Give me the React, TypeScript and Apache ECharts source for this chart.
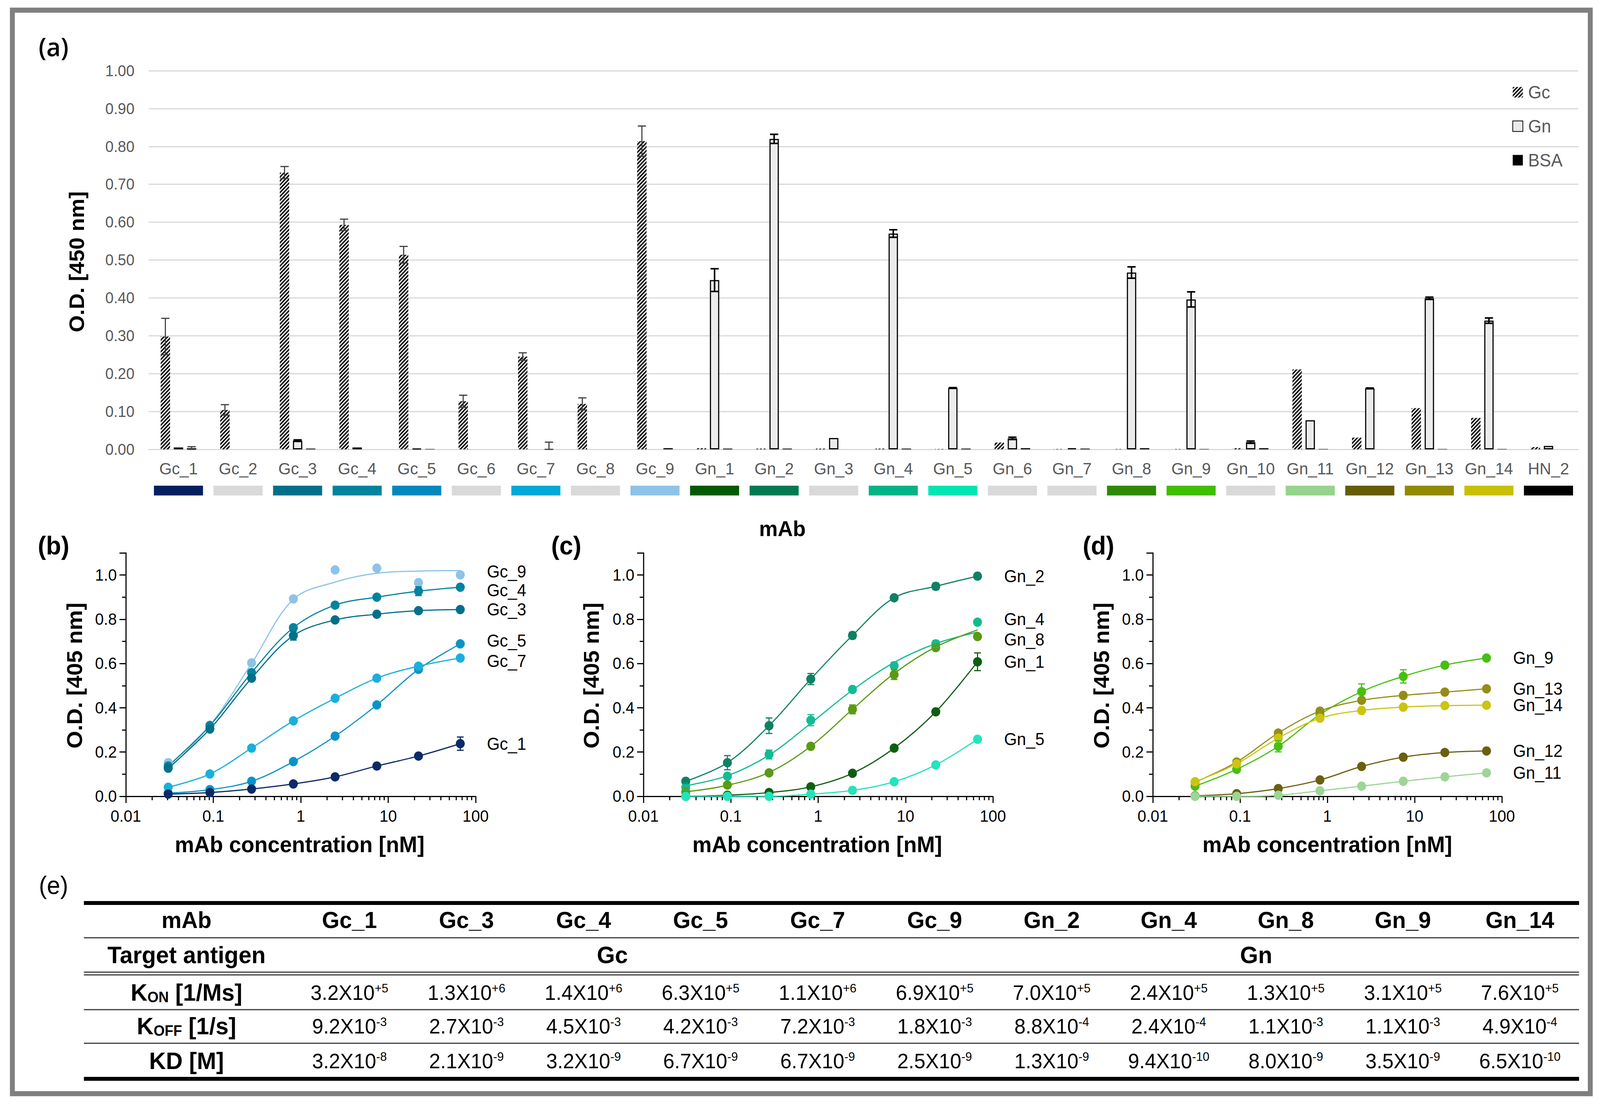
import React, { useEffect, useRef } from 'react';
import * as echarts from 'echarts';

const FONT = '"Liberation Sans", Arial, Helvetica, sans-serif';
const PAGE_W = 4272;
const PAGE_H = 2828;

// ---------- Panel (a) data ----------
const categories = ['Gc_1', 'Gc_2', 'Gc_3', 'Gc_4', 'Gc_5', 'Gc_6', 'Gc_7', 'Gc_8', 'Gc_9', 'Gn_1', 'Gn_2', 'Gn_3', 'Gn_4', 'Gn_5', 'Gn_6', 'Gn_7', 'Gn_8', 'Gn_9', 'Gn_10', 'Gn_11', 'Gn_12', 'Gn_13', 'Gn_14', 'HN_2'];
const gcValues = [0.298, 0.104, 0.731, 0.593, 0.514, 0.127, 0.245, 0.120, 0.814, 0.003, 0.002, 0.002, 0.002, 0.001, 0.018, 0.001, 0.001, 0.001, 0.003, 0.211, 0.031, 0.109, 0.083, 0.006];
const gcErrors = [0.048, 0.014, 0.016, 0.015, 0.022, 0.016, 0.010, 0.016, 0.040, 0, 0, 0, 0, 0, 0, 0, 0, 0, 0, 0, 0, 0, 0, 0];
const gnValues = [0.005, null, 0.023, 0.005, 0.002, null, null, null, null, 0.447, 0.820, 0.030, 0.570, 0.162, 0.029, 0.003, 0.467, 0.396, 0.019, 0.077, 0.161, 0.399, 0.340, 0.009];
const gnErrors = [0, 0, 0.002, 0, 0, 0, 0, 0, 0, 0.030, 0.012, 0, 0.010, 0.001, 0.003, 0, 0.015, 0.020, 0.003, 0, 0.001, 0.003, 0.007, 0];
const bsaValues = [0.003, null, 0.002, null, 0.001, null, 0.001, null, 0.003, 0.002, 0.002, null, 0.002, 0.002, 0.003, 0.002, 0.003, 0.001, 0.003, 0.001, null, 0.001, 0.001, null];
const bsaErrors = [0.004, 0, 0, 0, 0, 0, 0.018, 0, 0, 0, 0, 0, 0, 0, 0, 0, 0, 0, 0, 0, 0, 0, 0, 0];
const stripColors = ['#002060', '#d9d9d9', '#00708a', '#00839e', '#0088bf', '#d9d9d9', '#00a9d8', '#d9d9d9', '#8dc3e8', '#005a00', '#007a54', '#d9d9d9', '#00b386', '#00e5b4', '#d9d9d9', '#d9d9d9', '#2e8a00', '#40be00', '#d9d9d9', '#96d38c', '#665c00', '#938a00', '#c8c000', '#000000'];
const barTicks = [0, 0.1, 0.2, 0.3, 0.4, 0.5, 0.6, 0.7, 0.8, 0.9, 1.0];

// ---------- Panels (b)-(d) data ----------
const concentrations = [0.0305, 0.0914, 0.274, 0.823, 2.47, 7.41, 22.2, 66.7];
const logMinorTicks = [0.02, 0.03, 0.04, 0.05, 0.06, 0.07, 0.08, 0.09, 0.2, 0.3, 0.4, 0.5, 0.6, 0.7, 0.8, 0.9, 2, 3, 4, 5, 6, 7, 8, 9, 20, 30, 40, 50, 60, 70, 80, 90];

const gc9Points = [0.152, 0.322, 0.603, 0.892, 1.023, 1.031, 0.966, 1.001];
const gc9Fit = [0.122, 0.320, 0.600, 0.890, 0.968, 1.008, 1.018, 1.020];
const gc4Points = [0.137, 0.319, 0.559, 0.762, 0.864, 0.900, 0.927, 0.945];
const gc3Points = [0.127, 0.304, 0.534, 0.726, 0.797, 0.823, 0.839, 0.844];
const gc5Points = [0.015, 0.030, 0.068, 0.157, 0.272, 0.413, 0.574, 0.689];
const gc7Points = [0.041, 0.101, 0.218, 0.341, 0.443, 0.534, 0.588, 0.625];
const gc1Points = [0.010, 0.017, 0.033, 0.056, 0.088, 0.137, 0.182, 0.238];
const gc1Errors = [0, 0, 0, 0, 0, 0, 0, 0.030];
const gc3Errors = [0, 0, 0, 0.020, 0, 0, 0, 0];
const gc4Errors = [0, 0, 0, 0, 0, 0, 0.020, 0];

const gn2Points = [0.068, 0.152, 0.319, 0.530, 0.727, 0.897, 0.949, 0.995];
const gn2Errors = [0.012, 0.032, 0.035, 0.025, 0.015, 0, 0.015, 0];
const gn4Points = [0.041, 0.091, 0.189, 0.344, 0.483, 0.590, 0.689, 0.787];
const gn4Fit = [0.048, 0.093, 0.186, 0.330, 0.480, 0.605, 0.690, 0.742];
const gn4Errors = [0.012, 0.005, 0.020, 0.025, 0.010, 0.015, 0.015, 0];
const gn8Points = [0.020, 0.051, 0.106, 0.226, 0.393, 0.550, 0.672, 0.722];
const gn8Fit = [0.020, 0.050, 0.108, 0.226, 0.393, 0.555, 0.675, 0.752];
const gn8Errors = [0, 0, 0, 0, 0.020, 0.022, 0.010, 0];
const gn1Points = [0.000, 0.005, 0.017, 0.043, 0.104, 0.218, 0.382, 0.608];
const gn1Errors = [0, 0, 0, 0, 0, 0, 0, 0.040];
const gn5Points = [0.000, 0.000, 0.000, 0.010, 0.027, 0.066, 0.142, 0.258];

const gn9Points = [0.046, 0.122, 0.226, 0.370, 0.473, 0.542, 0.593, 0.625];
const gn9Errors = [0, 0, 0.025, 0, 0.035, 0.030, 0, 0];
const gn13Points = [0.064, 0.155, 0.286, 0.385, 0.434, 0.456, 0.471, 0.486];
const gn14Points = [0.066, 0.147, 0.263, 0.353, 0.388, 0.403, 0.410, 0.412];
const gn12Points = [0.002, 0.012, 0.035, 0.074, 0.135, 0.177, 0.198, 0.205];
const gn11Points = [0.000, 0.000, 0.005, 0.025, 0.046, 0.068, 0.088, 0.106];

type Curve = { name: string; color: string; points: number[]; fit?: number[]; errors?: number[]; nudge?: number };

const panelB: Curve[] = [
  { name: 'Gc_9', color: '#8dc3e8', points: gc9Points, fit: gc9Fit, nudge: -8 },
  { name: 'Gc_4', color: '#00839e', points: gc4Points, errors: gc4Errors, nudge: 8 },
  { name: 'Gc_3', color: '#00708a', points: gc3Points, errors: gc3Errors },
  { name: 'Gc_5', color: '#0a93c6', points: gc5Points, nudge: -8 },
  { name: 'Gc_7', color: '#1aafdc', points: gc7Points, nudge: 8 },
  { name: 'Gc_1', color: '#0b2a66', points: gc1Points, errors: gc1Errors },
];
const panelC: Curve[] = [
  { name: 'Gn_2', color: '#108063', points: gn2Points, errors: gn2Errors },
  { name: 'Gn_4', color: '#14bb92', points: gn4Points, fit: gn4Fit, errors: gn4Errors, nudge: -8 },
  { name: 'Gn_8', color: '#5a9a14', points: gn8Points, fit: gn8Fit, errors: gn8Errors, nudge: 8 },
  { name: 'Gn_1', color: '#0d5e12', points: gn1Points, errors: gn1Errors },
  { name: 'Gn_5', color: '#25e3bb', points: gn5Points },
];
const panelD: Curve[] = [
  { name: 'Gn_9', color: '#46c010', points: gn9Points, errors: gn9Errors },
  { name: 'Gn_13', color: '#958d18', points: gn13Points },
  { name: 'Gn_14', color: '#cbc412', points: gn14Points },
  { name: 'Gn_12', color: '#6a6010', points: gn12Points },
  { name: 'Gn_11', color: '#9dd596', points: gn11Points },
];

// ---------- Panel (e) table data ----------
const tableMabs = ['Gc_1', 'Gc_3', 'Gc_4', 'Gc_5', 'Gc_7', 'Gc_9', 'Gn_2', 'Gn_4', 'Gn_8', 'Gn_9', 'Gn_14'];
const targetAntigens = ['Gc', 'Gn'];
const konMantissa = ['3.2', '1.3', '1.4', '6.3', '1.1', '6.9', '7.0', '2.4', '1.3', '3.1', '7.6'];
const konExponent = ['+5', '+6', '+6', '+5', '+6', '+5', '+5', '+5', '+5', '+5', '+5'];
const koffMantissa = ['9.2', '2.7', '4.5', '4.2', '7.2', '1.8', '8.8', '2.4', '1.1', '1.1', '4.9'];
const koffExponent = ['-3', '-3', '-3', '-3', '-3', '-3', '-4', '-4', '-3', '-3', '-4'];
const kdMantissa = ['3.2', '2.1', '3.2', '6.7', '6.7', '2.5', '1.3', '9.4', '8.0', '3.5', '6.5'];
const kdExponent = ['-8', '-9', '-9', '-9', '-9', '-9', '-9', '-10', '-9', '-9', '-10'];

function errorSeries(name: string, values: (number | null)[], errors: number[], offset: number, color: string, width: number, axis: number, cap: number) {
  const data: number[][] = [];
  values.forEach((v, i) => {
    if (v != null && errors[i] > 0) data.push([i, v, errors[i]]);
  });
  return {
    type: 'custom',
    name,
    xAxisIndex: axis,
    yAxisIndex: axis,
    silent: true,
    z: 6,
    encode: { x: 0, y: 1 },
    data,
    renderItem: (params: any, api: any) => {
      const x = api.value(0);
      const v = api.value(1);
      const e = api.value(2);
      const top = api.coord([x, v + e]);
      const bot = api.coord([x, Math.max(0, v - e)]);
      const cx = top[0] + offset;
      const st = { stroke: color, lineWidth: width };
      return {
        type: 'group',
        children: [
          { type: 'line', shape: { x1: cx, y1: top[1], x2: cx, y2: bot[1] }, style: st },
          { type: 'line', shape: { x1: cx - cap, y1: top[1], x2: cx + cap, y2: top[1] }, style: st },
          { type: 'line', shape: { x1: cx - cap, y1: bot[1], x2: cx + cap, y2: bot[1] }, style: st },
        ],
      };
    },
  };
}

function curveErrorSeries(c: Curve, axis: number) {
  const data: number[][] = [];
  (c.errors || []).forEach((e, i) => {
    if (e > 0) data.push([concentrations[i], c.points[i], e]);
  });
  return {
    type: 'custom',
    xAxisIndex: axis,
    yAxisIndex: axis,
    silent: true,
    z: 4,
    encode: { x: 0, y: 1 },
    data,
    renderItem: (params: any, api: any) => {
      const x = api.value(0);
      const v = api.value(1);
      const e = api.value(2);
      const top = api.coord([x, v + e]);
      const bot = api.coord([x, Math.max(0, v - e)]);
      const st = { stroke: c.color, lineWidth: 3 };
      return {
        type: 'group',
        children: [
          { type: 'line', shape: { x1: top[0], y1: top[1], x2: top[0], y2: bot[1] }, style: st },
          { type: 'line', shape: { x1: top[0] - 9, y1: top[1], x2: top[0] + 9, y2: top[1] }, style: st },
          { type: 'line', shape: { x1: top[0] - 9, y1: bot[1], x2: top[0] + 9, y2: bot[1] }, style: st },
        ],
      };
    },
  };
}

function curveSeries(curves: Curve[], axis: number) {
  const out: any[] = [];
  curves.forEach((c) => {
    const fit = c.fit || c.points;
    out.push({
      type: 'line',
      xAxisIndex: axis,
      yAxisIndex: axis,
      data: concentrations.map((x, i) => [x, fit[i]]),
      smooth: 0.35,
      showSymbol: false,
      silent: true,
      z: 2,
      lineStyle: { color: c.color, width: 3 },
    });
    out.push({
      type: 'scatter',
      name: c.name,
      xAxisIndex: axis,
      yAxisIndex: axis,
      symbol: 'circle',
      symbolSize: 24,
      silent: true,
      z: 3,
      itemStyle: { color: c.color, opacity: 1 },
      label: {
        show: false,
        position: 'right',
        distance: 59,
        formatter: c.name,
        fontSize: 44,
        fontFamily: FONT,
        color: '#000',
      },
      data: concentrations.map((x, i) =>
        i === concentrations.length - 1
          ? { value: [x, c.points[i]], label: { show: true, offset: [0, c.nudge || 0] } }
          : [x, c.points[i]]
      ),
    });
    if (c.errors) out.push(curveErrorSeries(c, axis));
  });
  out.push({
    type: 'custom',
    xAxisIndex: axis,
    yAxisIndex: axis,
    silent: true,
    clip: false,
    z: 1,
    encode: { x: 0, y: 1 },
    data: logMinorTicks.map((v) => [v, 0]),
    renderItem: (params: any, api: any) => {
      const p = api.coord([api.value(0), 0]);
      return { type: 'line', shape: { x1: p[0], y1: p[1], x2: p[0], y2: p[1] + 10 }, style: { stroke: '#000', lineWidth: 3 } };
    },
  });
  return out;
}

function txt(text: string, x: number, y: number, font: string, extra: any = {}) {
  return {
    type: 'text',
    x,
    y,
    rotation: extra.rotation || 0,
    z: 20,
    silent: true,
    style: {
      text,
      font,
      fill: extra.fill || '#000',
      align: extra.align || 'center',
      verticalAlign: 'middle',
      textAlign: extra.align || 'center',
      textVerticalAlign: 'middle',
      rich: extra.rich,
    },
  };
}

function buildGraphics() {
  const g: any[] = [];
  g.push({
    type: 'rect',
    shape: { x: 33, y: 26, width: 4213, height: 2773 },
    style: { fill: 'none', stroke: '#7f7f7f', lineWidth: 13 },
    silent: true,
    z: 20,
  });
  // panel letters
  g.push(txt('(a)', 143, 118, '600 66px "Open Sans", "Noto Sans", sans-serif'));
  g.push(txt('(b)', 143, 1396, 'bold 66px ' + FONT));
  g.push(txt('(c)', 1512, 1396, 'bold 66px ' + FONT));
  g.push(txt('(d)', 2933, 1396, 'bold 66px ' + FONT));
  g.push(txt('(e)', 143, 2266, '64px ' + FONT));
  // axis titles
  g.push(txt('O.D. [450 nm]', 205, 670, 'bold 56px ' + FONT, { rotation: Math.PI / 2 }));
  g.push(txt('mAb', 2089, 1353, 'bold 56px ' + FONT));
  [199, 1579, 2941].forEach((x) => g.push(txt('O.D. [405 nm]', x, 1729, 'bold 58px ' + FONT, { rotation: Math.PI / 2 })));
  [800, 2182, 3544].forEach((x) => g.push(txt('mAb concentration [nM]', x, 2161, 'bold 58px ' + FONT)));

  // table
  const x1 = 224;
  const x2 = 4216;
  const hline = (y: number, w: number, c: string) => ({
    type: 'line',
    shape: { x1, y1: y, x2, y2: y },
    style: { stroke: c, lineWidth: w },
    silent: true,
    z: 20,
  });
  g.push(hline(2311, 10, '#000'));
  g.push(hline(2400, 3, '#3a3a3a'));
  g.push(hline(2488, 3, '#3a3a3a'));
  g.push(hline(2495, 3, '#3a3a3a'));
  g.push(hline(2584, 3, '#3a3a3a'));
  g.push(hline(2670, 3, '#3a3a3a'));
  g.push(hline(2761, 10, '#000'));

  const labelX = 498;
  const colX0 = 933;
  const colStep = 312.5;
  const rowY = { head: 2354, target: 2444, kon: 2540, koff: 2626, kd: 2715 };
  const bold = 'bold 60px ' + FONT;
  g.push(txt('mAb', labelX, rowY.head, bold));
  g.push(txt('Target antigen', labelX, rowY.target, 'bold 62px ' + FONT));
  const kRich = {
    k: { fontSize: 62, fontWeight: 'bold', fontFamily: FONT, fill: '#000' },
    sub: { fontSize: 38, fontWeight: 'bold', fontFamily: FONT, fill: '#000', verticalAlign: 'bottom' },
  };
  g.push(txt('{k|K}{sub|ON}{k| [1/Ms]}', labelX, rowY.kon, 'bold 62px ' + FONT, { rich: kRich }));
  g.push(txt('{k|K}{sub|OFF}{k| [1/s]}', labelX, rowY.koff, 'bold 62px ' + FONT, { rich: kRich }));
  g.push(txt('KD [M]', labelX, rowY.kd, 'bold 62px ' + FONT));
  g.push(txt(targetAntigens[0], 1635, rowY.target, 'bold 62px ' + FONT));
  g.push(txt(targetAntigens[1], 3354, rowY.target, 'bold 62px ' + FONT));
  const vRich = {
    m: { fontSize: 54, fontFamily: FONT, fill: '#000' },
    s: { fontSize: 32, fontFamily: FONT, fill: '#000', verticalAlign: 'top' },
  };
  tableMabs.forEach((m, j) => {
    const x = colX0 + j * colStep;
    g.push(txt(m, x, rowY.head, bold));
    g.push(txt(`{m|${konMantissa[j]}X10}{s|${konExponent[j]}}`, x, rowY.kon, '54px ' + FONT, { rich: vRich }));
    g.push(txt(`{m|${koffMantissa[j]}X10}{s|${koffExponent[j]}}`, x, rowY.koff, '54px ' + FONT, { rich: vRich }));
    g.push(txt(`{m|${kdMantissa[j]}X10}{s|${kdExponent[j]}}`, x, rowY.kd, '54px ' + FONT, { rich: vRich }));
  });
  return g;
}

function logAxis(gridIndex: number) {
  return {
    type: 'log',
    gridIndex,
    logBase: 10,
    min: 0.01,
    max: 100,
    axisLine: { show: true, onZero: false, lineStyle: { color: '#000', width: 3 } },
    axisTick: { show: true, length: 17, lineStyle: { color: '#000', width: 3 } },
    axisLabel: {
      fontSize: 42,
      fontFamily: FONT,
      color: '#000',
      margin: 30,
      formatter: (v: number) => String(Number(v.toPrecision(6))),
    },
    splitLine: { show: false },
    minorTick: { show: false },
  };
}

function odAxis(gridIndex: number) {
  return {
    type: 'value',
    gridIndex,
    min: 0,
    max: 1.1,
    interval: 0.2,
    axisLine: { show: true, lineStyle: { color: '#000', width: 3 } },
    axisTick: { show: true, length: 17, lineStyle: { color: '#000', width: 3 } },
    minorTick: { show: true, splitNumber: 2, length: 10, lineStyle: { color: '#000', width: 3 } },
    axisLabel: {
      fontSize: 42,
      fontFamily: FONT,
      color: '#000',
      margin: 24,
      showMaxLabel: false,
      formatter: (v: number) => (v > 1.05 ? '' : v.toFixed(1)),
    },
    splitLine: { show: false },
  };
}

function buildOption() {
  const decal = {
    symbol: 'rect',
    symbolSize: 1,
    dashArrayX: [1, 0],
    dashArrayY: [4, 3],
    rotation: -Math.PI / 4,
    color: '#141414',
  };
  return {
    animation: false,
    backgroundColor: '#ffffff',
    textStyle: { fontFamily: FONT },
    grid: [
      { left: 397, top: 181, width: 3817, height: 969, outerBoundsMode: 'none' },
      { left: 397, top: 1243, width: 3817, height: 25, outerBoundsMode: 'none' },
      { left: 336, top: 1415, width: 934, height: 623, outerBoundsMode: 'none' },
      { left: 1718, top: 1415, width: 933, height: 623, outerBoundsMode: 'none' },
      { left: 3078, top: 1415, width: 932, height: 623, outerBoundsMode: 'none' },
    ],
    legend: {
      data: ['Gc', 'Gn', 'BSA'],
      orient: 'vertical',
      left: 4033,
      top: 208,
      itemWidth: 27,
      itemHeight: 27,
      itemGap: 41,
      icon: 'rect',
      selectedMode: false,
      textStyle: { fontSize: 46, color: '#595959', fontFamily: FONT, padding: [0, 0, 0, 9] },
    },
    xAxis: [
      {
        type: 'category',
        gridIndex: 0,
        data: categories,
        axisLine: { show: true, lineStyle: { color: '#d9d9d9', width: 3 } },
        axisTick: { show: false },
        axisLabel: { fontSize: 43, color: '#595959', margin: 28, interval: 0, fontFamily: FONT },
        splitLine: { show: false },
      },
      { type: 'category', gridIndex: 1, data: categories, show: false },
      logAxis(2),
      logAxis(3),
      logAxis(4),
    ],
    yAxis: [
      {
        type: 'value',
        gridIndex: 0,
        min: barTicks[0],
        max: barTicks[barTicks.length - 1],
        interval: 0.1,
        axisLine: { show: false },
        axisTick: { show: false },
        axisLabel: { fontSize: 40, color: '#595959', margin: 38, fontFamily: FONT, formatter: (v: number) => v.toFixed(2) },
        splitLine: { show: true, lineStyle: { color: '#d9d9d9', width: 3 } },
      },
      { type: 'value', gridIndex: 1, min: 0, max: 1, show: false },
      odAxis(2),
      odAxis(3),
      odAxis(4),
    ],
    series: [
      {
        type: 'bar',
        name: 'Gc',
        xAxisIndex: 0,
        yAxisIndex: 0,
        data: gcValues,
        barWidth: 25,
        barGap: '40%',
        silent: true,
        itemStyle: { color: '#ffffff', decal },
      },
      {
        type: 'bar',
        name: 'Gn',
        xAxisIndex: 0,
        yAxisIndex: 0,
        data: gnValues,
        barWidth: 25,
        barGap: '40%',
        silent: true,
        itemStyle: { color: '#ebebeb', borderColor: '#000', borderWidth: 3 },
      },
      {
        type: 'bar',
        name: 'BSA',
        xAxisIndex: 0,
        yAxisIndex: 0,
        data: bsaValues,
        barWidth: 25,
        barGap: '40%',
        silent: true,
        itemStyle: { color: '#000' },
      },
      errorSeries('errGc', gcValues, gcErrors, -35, '#404040', 3, 0, 11),
      errorSeries('errGn', gnValues, gnErrors, 0, '#000', 4, 0, 11),
      errorSeries('errBSA', bsaValues, bsaErrors, 35, '#404040', 3, 0, 11),
      {
        type: 'bar',
        xAxisIndex: 1,
        yAxisIndex: 1,
        barWidth: 131,
        silent: true,
        data: stripColors.map((c) => ({ value: 1, itemStyle: { color: c } })),
      },
      ...curveSeries(panelB, 2),
      ...curveSeries(panelC, 3),
      ...curveSeries(panelD, 4),
    ],
    graphic: buildGraphics(),
  };
}

export default function App() {
  const ref = useRef<HTMLDivElement>(null);
  useEffect(() => {
    const el = ref.current;
    if (!el) return;
    const vw = window.innerWidth || PAGE_W;
    const vh = window.innerHeight || PAGE_H;
    el.style.transformOrigin = '0 0';
    el.style.transform = `scale(${vw / PAGE_W}, ${vh / PAGE_H})`;
    const chart = echarts.init(el, null, { renderer: 'svg' });
    chart.setOption(buildOption() as any);
    return () => chart.dispose();
  }, []);
  return (
    <div
      ref={ref}
      style={{ position: 'fixed', left: 0, top: 0, width: PAGE_W + 'px', height: PAGE_H + 'px', background: '#fff' }}
    />
  );
}
